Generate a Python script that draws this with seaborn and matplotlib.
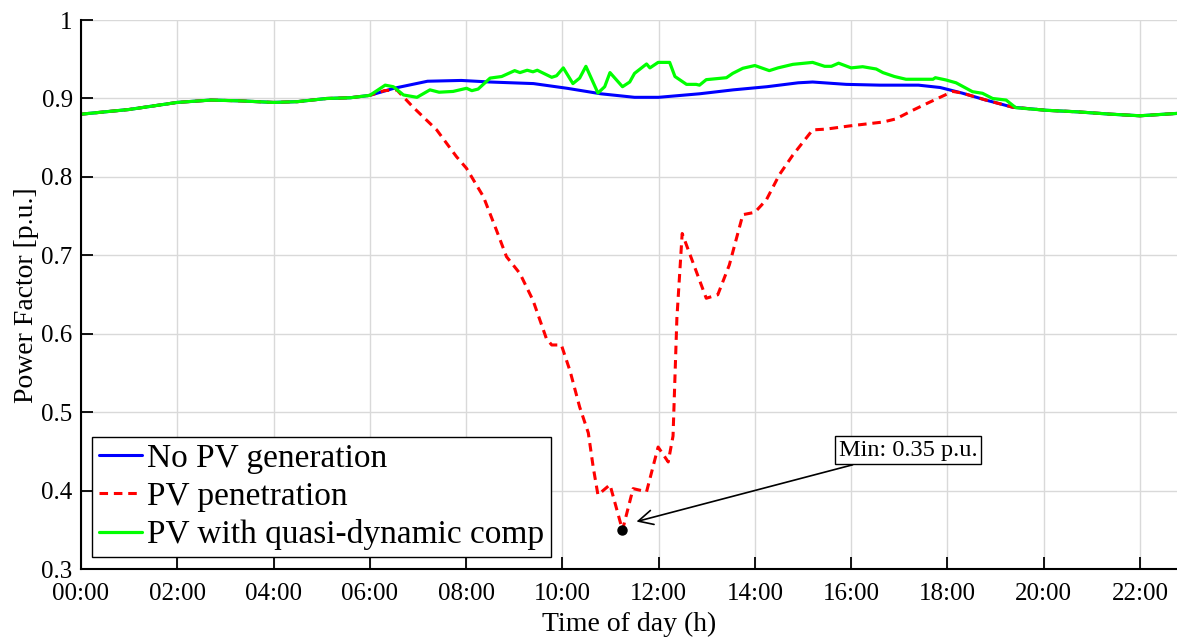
import numpy as np
import matplotlib
matplotlib.use("Agg")
import matplotlib.pyplot as plt
import seaborn as sns
from matplotlib.ticker import FixedLocator, FuncFormatter

# ---------------- data (hours of day, power factor p.u.) ----------------
t_blue = [0, 1, 2, 2.7, 3.3, 4, 4.5, 5.1, 5.6, 6.0, 6.5, 7.2, 7.9, 8.5, 9.4, 10.1,
          10.8, 11.5, 12.0, 12.85, 13.55, 14.25, 14.9, 15.2, 15.9, 16.6, 17.4, 17.85,
          18.3, 18.8, 19.35, 20.05, 20.7, 21.4, 22.0, 22.77]
v_blue = [0.880, 0.886, 0.895, 0.898, 0.897, 0.895, 0.896, 0.900, 0.901, 0.904, 0.913,
          0.922, 0.923, 0.921, 0.919, 0.913, 0.906, 0.9015, 0.9015, 0.906, 0.911, 0.915,
          0.920, 0.921, 0.918, 0.917, 0.917, 0.914, 0.907, 0.898, 0.889, 0.885, 0.883,
          0.880, 0.878, 0.881]

t_red = [0, 1, 2, 2.7, 3.3, 4, 4.5, 5.1, 5.6, 6.0, 6.3, 6.56, 6.9, 7.39, 7.8, 8.01,
         8.36, 8.63, 8.84, 9.12, 9.39, 9.67, 9.78, 9.98, 10.16, 10.36, 10.54, 10.64,
         10.74, 10.99, 11.25, 11.47, 11.75, 11.99, 12.2, 12.3, 12.38, 12.49, 12.99,
         13.23, 13.47, 13.75, 14.0, 14.24, 14.51, 14.79, 15.2, 15.48, 15.96, 16.66,
         16.93, 17.28, 17.62, 17.97, 18.11, 18.3, 18.8, 19.35, 20.05, 20.7, 21.4, 22.0,
         22.77]
v_red = [0.880, 0.886, 0.895, 0.898, 0.897, 0.895, 0.896, 0.900, 0.901, 0.904, 0.910,
         0.911, 0.889, 0.860, 0.826, 0.811, 0.775, 0.7325, 0.6985, 0.677, 0.643, 0.594,
         0.586, 0.586, 0.553, 0.507, 0.474, 0.431, 0.395, 0.408, 0.350, 0.403, 0.399,
         0.456, 0.437, 0.470, 0.620, 0.728, 0.6455, 0.650, 0.688, 0.752, 0.755, 0.771,
         0.803, 0.828, 0.860, 0.861, 0.865, 0.870, 0.874, 0.885, 0.895, 0.905, 0.909,
         0.907, 0.898, 0.889, 0.885, 0.883, 0.880, 0.878, 0.881]

t_green = [0, 1, 2, 2.7, 3.3, 4, 4.5, 5.1, 5.6, 6.0, 6.32, 6.49, 6.7, 6.98, 7.25, 7.44,
           7.73, 8.01, 8.12, 8.25, 8.5, 8.74, 9.01, 9.12, 9.27, 9.39, 9.48, 9.78, 9.88,
           10.02, 10.22, 10.36, 10.49, 10.74, 10.88, 10.99, 11.25, 11.4, 11.5, 11.75,
           11.82, 11.99, 12.23, 12.34, 12.58, 12.78, 12.85, 12.99, 13.41, 13.54, 13.75,
           14.0, 14.3, 14.48, 14.79, 15.2, 15.45, 15.59, 15.74, 16.0, 16.24, 16.52, 16.66,
           16.9, 17.14, 17.7, 17.75, 17.97, 18.18, 18.52, 18.73, 18.94, 19.22, 19.42,
           20.05, 20.7, 21.4, 22.0, 22.77]
v_green = [0.880, 0.886, 0.895, 0.898, 0.897, 0.895, 0.896, 0.900, 0.901, 0.904, 0.917,
           0.915, 0.9045, 0.9015, 0.911, 0.908, 0.909, 0.913, 0.910, 0.912, 0.926, 0.928,
           0.9355, 0.933, 0.936, 0.934, 0.936, 0.927, 0.929, 0.939, 0.919, 0.926, 0.941,
           0.907, 0.915, 0.933, 0.915, 0.921, 0.932, 0.944, 0.939, 0.946, 0.946, 0.928,
           0.918, 0.918, 0.917, 0.924, 0.9265, 0.932, 0.9385, 0.942, 0.9355, 0.939,
           0.9435, 0.946, 0.941, 0.941, 0.945, 0.939, 0.9405, 0.9376, 0.933, 0.928,
           0.9245, 0.9245, 0.9265, 0.9236, 0.920, 0.9087, 0.9066, 0.900, 0.898, 0.8883,
           0.885, 0.883, 0.880, 0.878, 0.881]

labels = ["No PV generation", "PV penetration", "PV with quasi-dynamic comp"]
x_ticks = [0, 2, 4, 6, 8, 10, 12, 14, 16, 18, 20, 22]
x_tick_labels = ["00:00", "02:00", "04:00", "06:00", "08:00", "10:00",
                 "12:00", "14:00", "16:00", "18:00", "20:00", "22:00"]
y_ticks = [0.3, 0.4, 0.5, 0.6, 0.7, 0.8, 0.9, 1.0]

# ---------------- style ----------------
sns.set_theme(style="white")
plt.rcParams["font.family"] = ["Liberation Serif", "DejaVu Serif"]
plt.rcParams["text.color"] = "black"
plt.rcParams["axes.labelcolor"] = "black"
plt.rcParams["xtick.color"] = "black"
plt.rcParams["ytick.color"] = "black"

fig = plt.figure(figsize=(11.77, 6.37), dpi=100)
ax = fig.add_axes([0.0688, 0.106, 0.9312, 0.8626])

sns.lineplot(x=t_blue, y=v_blue, ax=ax, color="#0000FF", lw=2.2, label=labels[0])
sns.lineplot(x=t_red, y=v_red, ax=ax, color="#FF0000", lw=2.2, label=labels[1],
             linestyle="--")
sns.lineplot(x=t_green, y=v_green, ax=ax, color="#00FF00", lw=2.3, label=labels[2])
ax.lines[1].set_dashes((2.8, 1.9))

# minimum marker + annotation
i_min = int(np.argmin(v_red))
x_min, y_min = t_red[i_min], v_red[i_min]
ax.plot([x_min], [y_min], "o", color="black", ms=6.5, zorder=5)
ax.annotate(f"Min: {y_min:.2f} p.u.", xy=(x_min + 0.29, y_min + 0.011),
            xytext=(17.19, 0.452), ha="center", va="center", fontsize=17.5,
            color="black",
            bbox=dict(boxstyle="square,pad=0.15", fc="white", ec="black", lw=1.0),
            arrowprops=dict(arrowstyle="->", color="black", lw=1.2,
                            mutation_scale=26, shrinkA=0, shrinkB=0),
            zorder=6)

# axes formatting
ax.set_xlim(0, 22.77)
ax.set_ylim(0.3, 1.0)
ax.xaxis.set_major_locator(FixedLocator(x_ticks))
ax.set_xticklabels(x_tick_labels)
ax.yaxis.set_major_locator(FixedLocator(y_ticks))
ax.yaxis.set_major_formatter(FuncFormatter(lambda v, p: f"{v:g}"))
ax.tick_params(axis="both", direction="in", length=8.5, width=1.3, labelsize=18,
               colors="black", top=False, right=False, bottom=True, left=True)
ax.tick_params(axis="x", pad=10)
ax.tick_params(axis="y", pad=6)
ax.grid(True, color="#d9d9d9", lw=1.0)
ax.set_axisbelow(True)
for side in ["top", "right"]:
    ax.spines[side].set_visible(False)
for side in ["left", "bottom"]:
    ax.spines[side].set_color("black")
    ax.spines[side].set_linewidth(1.5)

ax.set_xlabel("Time of day (h)", fontsize=20, labelpad=5, color="black")
ax.set_ylabel("Power Factor [p.u.]", fontsize=20, labelpad=2, color="black")

leg = ax.legend(loc="lower left", bbox_to_anchor=(0.010, 0.023), borderaxespad=0,
                fontsize=24, frameon=True, fancybox=False, edgecolor="black",
                framealpha=1.0, handlelength=1.3, handletextpad=0.15,
                labelspacing=0.22, borderpad=0.2)
leg.get_frame().set_linewidth(1.0)
for txt in leg.get_texts():
    txt.set_color("black")

fig.savefig("out.png", dpi=100)
